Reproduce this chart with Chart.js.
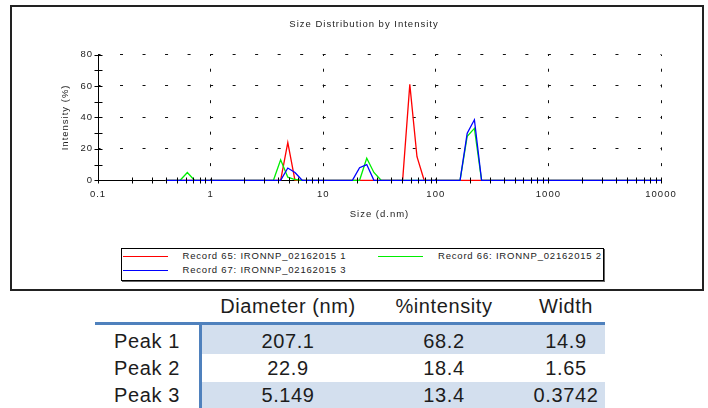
<!DOCTYPE html>
<html>
<head>
<meta charset="utf-8">
<script src="https://cdn.jsdelivr.net/npm/chart.js@4.4.1/dist/chart.umd.min.js"></script>
<style>
  html,body{margin:0;padding:0;background:#fff;}
  body{width:708px;height:408px;position:relative;overflow:hidden;font-family:'Liberation Sans',Arial,sans-serif;}
  .abs{position:absolute;}
  .lgtext{position:absolute;font-size:9.5px;line-height:12px;color:#222;letter-spacing:0.8px;white-space:nowrap;}
  .tt{position:absolute;font-size:20px;line-height:24px;color:#1c1c1c;white-space:nowrap;transform:translate(-50%,-50%);letter-spacing:0.6px;}
</style>
</head>
<body>
<div class="abs" style="left:10px;top:5px;width:690px;height:282px;border:2px solid #222;"></div>
<canvas id="c" width="708" height="240" style="position:absolute;left:0;top:0;"></canvas>
<div id="legend"></div>
<div id="table"></div>
<script>
// ---- data ----
const sizes = [0.4, 0.4632, 0.5365, 0.6213, 0.7195, 0.8332, 0.9650, 1.117, 1.294, 1.499,
  1.736, 2.010, 2.328, 2.696, 3.122, 3.615, 4.187, 4.849, 5.615, 6.503,
  7.531, 8.721, 10.10, 11.70, 13.54, 15.69, 18.17, 21.04, 24.36, 28.21,
  32.67, 37.84, 43.82, 50.75, 58.77, 68.06, 78.82, 91.28, 105.7, 122.4,
  141.8, 164.2, 190.1, 220.2, 255.0, 295.3, 342.0, 396.1, 458.7, 531.2,
  615.1, 712.4, 825.0, 955.4, 1106, 1281, 1484, 1718, 1990, 2305,
  2669, 3091, 3580, 4145, 4801, 5560, 6439, 7456, 8635, 10000];
const record65 = [0,0,0,0,0,0,0,0,0,0,
  0,0,0,0,0,0,0,24,0,0,
  0,0,0,0,0,0,0,0,0,0,
  0,0,0,0,61,15,0,0,0,0,
  0,0,0,0,0,0,0,0,0,0,
  0,0,0,0,0,0,0,0,0,0,
  0,0,0,0,0,0,0,0,0,0];
const record66 = [0,0,0,5,0,0,0,0,0,0,
  0,0,0,0,0,0,13,2,0.5,0,
  0,0,0,0,0,0,0,0,14,5,
  0,0,0,0,0,0,0,0,0,0,
  0,0,28,33,0,0,0,0,0,0,
  0,0,0,0,0,0,0,0,0,0,
  0,0,0,0,0,0,0,0,0,0];
const record67 = [0,0,0,0,0,0,0,0,0,0,
  0,0,0,0,0,0,0,7.8,5,0,
  0,0,0,0,0,0,0,8,10,0,
  0,0,0,0,0,0,0,0,0,0,
  0,0,30,38.5,0,0,0,0,0,0,
  0,0,0,0,0,0,0,0,0,0,
  0,0,0,0,0,0,0,0,0,0];
const seriesNames = ['Record 65:  IRONNP_02162015 1', 'Record 66:  IRONNP_02162015 2', 'Record 67:  IRONNP_02162015 3'];
const seriesColors = ['#ff0000', '#00ee00', '#0000ff'];
const xTickValues = [0.1, 1, 10, 100, 1000, 10000];
const xTickLabels = ['0.1', '1', '10', '100', '1000', '10000'];
const yTickValues = [0, 20, 40, 60, 80];
const yMinorTicks = [10, 30, 50, 70];
const minorMultipliers = [2, 3, 4, 5, 6, 7, 8, 9];
const chartTitle = 'Size Distribution by Intensity';
const xTitle = 'Size (d.nm)';
const yTitle = 'Intensity (%)';

const tableHeaders = ['Diameter (nm)', '%intensity', 'Width'];
const peakLabels = ['Peak 1', 'Peak 2', 'Peak 3'];
const peakDiameter = ['207.1', '22.9', '5.149'];
const peakIntensity = ['68.2', '18.4', '13.4'];
const peakWidth = ['14.9', '1.65', '0.3742'];

// ---- chart ----
const allSeries = [record65, record66, record67];
const datasets = allSeries.map((vals, i) => ({
  label: seriesNames[i],
  data: sizes.map((s, k) => ({x: s, y: vals[k]})),
  borderColor: seriesColors[i],
  borderWidth: 1.3,
  pointRadius: 0,
  tension: 0,
  fill: false,
  clip: false,
  order: 3 - i
}));

const xMinor = [];
for (let k = 0; k < xTickValues.length - 1; k++) {
  for (const m of minorMultipliers) xMinor.push(xTickValues[k] * m);
}

const FONT = "'Liberation Sans', Arial, sans-serif";
const TXT = '#222';
const spacingPlugin = {
  id: 'spacing',
  beforeDraw(chart) { chart.ctx.letterSpacing = '1px'; }
};
const tickPlugin = {
  id: 'tickmarks',
  afterDatasetsDraw(chart) {
    const {ctx, scales: {x, y}} = chart;
    ctx.save();
    ctx.strokeStyle = '#000';
    ctx.lineWidth = 1;
    ctx.beginPath();
    const y0 = Math.round(y.getPixelForValue(0)) + 0.5;
    xTickValues.concat(xMinor).forEach(v => {
      const px = Math.round(x.getPixelForValue(v)) + 0.5;
      ctx.moveTo(px, y0 - 3); ctx.lineTo(px, y0 + 3);
    });
    const x0 = Math.round(x.getPixelForValue(xTickValues[0])) + 0.5;
    yTickValues.concat(yMinorTicks).forEach(v => {
      const py = Math.round(y.getPixelForValue(v)) + 0.5;
      ctx.moveTo(x0 - 4, py); ctx.lineTo(x0 + 4, py);
    });
    ctx.stroke();
    ctx.restore();
  }
};

new Chart(document.getElementById('c'), {
  type: 'line',
  data: {datasets},
  plugins: [spacingPlugin, tickPlugin],
  options: {
    responsive: false,
    animation: false,
    events: [],
    layout: {padding: {left: 67, right: 47, top: 0, bottom: 19.7}},
    plugins: {
      legend: {display: false},
      tooltip: {enabled: false},
      title: {
        display: true, text: chartTitle, color: TXT,
        font: {family: FONT, size: 9.5, weight: 'normal', lineHeight: 1.2},
        padding: {top: 18.3, bottom: 24.8}
      }
    },
    scales: {
      x: {
        type: 'logarithmic', min: 0.1, max: 10000,
        afterBuildTicks: s => { s.ticks = xTickValues.map(v => ({value: v})); },
        afterFit: s => { s.height = 40; },
        ticks: {
          autoSkip: false, maxRotation: 0, padding: 8.5, color: TXT,
          font: {family: FONT, size: 9.5},
          callback: (v, i) => xTickLabels[i]
        },
        grid: {
          drawTicks: false, lineWidth: 1,
          color: c => (c.tick && c.tick.value === xTickValues[0]) ? 'rgba(0,0,0,0)' : '#111'
        },
        border: {display: true, color: '#000', width: 1, dash: [3, 12.73], dashOffset: 1.5},
        title: {display: true, text: xTitle, color: TXT, font: {family: FONT, size: 9.5}, padding: {top: 0, bottom: 0}}
      },
      y: {
        type: 'linear', min: 0, max: 80,
        afterBuildTicks: s => { s.ticks = yTickValues.map(v => ({value: v})); },
        afterFit: s => { s.width = 31; },
        ticks: {padding: 5, color: TXT, font: {family: FONT, size: 9.5}},
        grid: {
          drawTicks: false, lineWidth: 1,
          color: c => (c.tick && c.tick.value === 0) ? 'rgba(0,0,0,0)' : '#111'
        },
        border: {display: true, color: '#000', width: 1, dash: [3, 19.52], dashOffset: 1.5},
        title: {display: true, text: yTitle, color: TXT, font: {family: FONT, size: 9.5}, padding: {top: -7.7, bottom: 0}}
      }
    }
  }
});

// ---- legend (HTML) ----
const lg = document.getElementById('legend');
const box = document.createElement('div');
box.className = 'abs';
box.style.cssText = 'left:121px;top:248px;width:481px;height:31px;border:1px solid #000;box-shadow:1px 1px 0 #666;';
lg.appendChild(box);
const legendPos = [{lx: 123, tx: 182.5, y: 256}, {lx: 378, tx: 438, y: 256}, {lx: 123, tx: 182.5, y: 270.5}];
seriesNames.forEach((name, i) => {
  const p = legendPos[i];
  const ln = document.createElement('div');
  ln.className = 'abs';
  ln.style.cssText = `left:${p.lx}px;top:${p.y - 0.5}px;width:45px;height:1.3px;background:${seriesColors[i]};`;
  lg.appendChild(ln);
  const t = document.createElement('div');
  t.className = 'lgtext';
  t.style.left = p.tx + 'px';
  t.style.top = (p.y - 6.5) + 'px';
  t.textContent = name;
  lg.appendChild(t);
});

// ---- table (HTML) ----
const tb = document.getElementById('table');
function addDiv(css, cls, text) {
  const d = document.createElement('div');
  if (cls) d.className = cls;
  d.style.cssText = css;
  if (text !== undefined) d.textContent = text;
  tb.appendChild(d);
  return d;
}
addDiv('position:absolute;left:202px;top:324.5px;width:403px;height:29.5px;background:#d3dfee;');
addDiv('position:absolute;left:202px;top:382px;width:403px;height:26px;background:#d3dfee;');
addDiv('position:absolute;left:95px;top:321.5px;width:510px;height:3px;background:#4f81bd;');
addDiv('position:absolute;left:199px;top:321.5px;width:3px;height:87px;background:#4f81bd;');
const colX = [288, 444, 566];
const headerY = 306;
const rowY = [340.7, 367.7, 394.7];
tableHeaders.forEach((h, i) => addDiv(`left:${colX[i]}px;top:${headerY}px;`, 'tt', h));
const cols = [peakDiameter, peakIntensity, peakWidth];
peakLabels.forEach((lab, r) => {
  addDiv(`left:147px;top:${rowY[r]}px;`, 'tt', lab);
  cols.forEach((col, c) => addDiv(`left:${colX[c]}px;top:${rowY[r]}px;`, 'tt', col[r]));
});
</script>
</body>
</html>
